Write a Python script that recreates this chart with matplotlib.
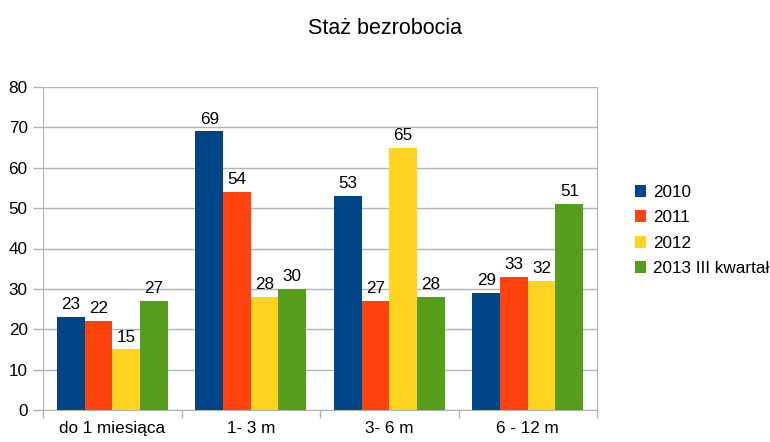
import numpy as np
import matplotlib
matplotlib.use('Agg')
import matplotlib.pyplot as plt

plt.rcParams['font.family'] = ['Liberation Sans', 'DejaVu Sans']

categories = ['do 1 miesiąca', '1- 3 m', '3- 6 m', '6 - 12 m']
series_names = ['2010', '2011', '2012', '2013 III kwartał']
values_2010 = [23, 69, 53, 29]
values_2011 = [22, 54, 27, 33]
values_2012 = [15, 28, 65, 32]
values_2013 = [27, 30, 28, 51]
colors = ['#004586', '#ff420e', '#ffd320', '#579d1c']

all_values = [values_2010, values_2011, values_2012, values_2013]

fig = plt.figure(figsize=(7.7, 4.42), dpi=100)
ax = fig.add_axes([43 / 770, 32 / 442, 554 / 770, 323 / 442])

x = np.arange(len(categories))
bar_w = 0.2
for i, (name, vals, col) in enumerate(zip(series_names, all_values, colors)):
    pos = x - 0.3 + i * bar_w
    bars = ax.bar(pos, vals, width=bar_w, color=col, label=name, zorder=3)
    for b, v in zip(bars, vals):
        ax.annotate(str(v), (b.get_x() + b.get_width() / 2, v), xytext=(0, 3.5),
                    textcoords='offset points', ha='center', va='bottom', fontsize=12.3)

ax.set_xlim(-0.5, len(categories) - 0.5)
ax.set_ylim(0, 80)
ax.set_yticks(range(0, 81, 10))
ax.yaxis.grid(True, color='#b3b3b3', linewidth=1, zorder=0)
ax.set_xticks(x)
ax.set_xticklabels(categories, fontsize=12.3)
ax.set_xticks(np.arange(-0.5, len(categories), 1), minor=True)
ax.tick_params(axis='x', which='major', length=0, pad=8)
ax.tick_params(axis='x', which='minor', length=6, color='#b3b3b3', width=1)
ax.tick_params(axis='y', length=7, color='#b3b3b3', width=1, labelsize=12.3, pad=4)
for s in ['left', 'bottom', 'right']:
    ax.spines[s].set_color('#b3b3b3')
ax.spines['top'].set_visible(False)

fig.suptitle('Staż bezrobocia', x=0.5, y=0.96, fontsize=15.5)
ax.legend(loc='center left', bbox_to_anchor=(1.04, 0.556), frameon=False, fontsize=12.3,
          handlelength=0.7, handleheight=0.7, handletextpad=0.4, labelspacing=0.6)

fig.savefig('out.png', dpi=100)
